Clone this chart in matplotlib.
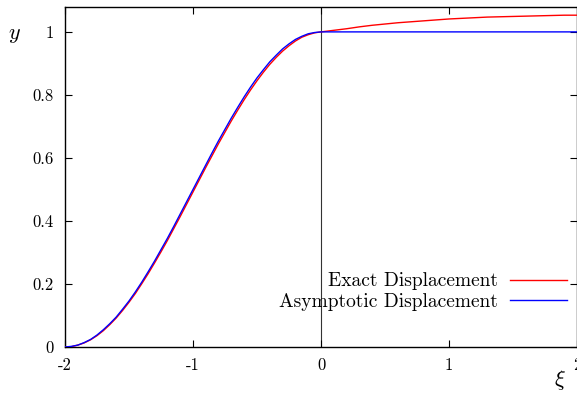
import matplotlib
matplotlib.use("Agg")
import matplotlib.pyplot as plt
import numpy as np

plt.rcParams["font.family"] = ["cmr10", "DejaVu Serif"]
plt.rcParams["mathtext.fontset"] = "cm"
plt.rcParams["axes.formatter.use_mathtext"] = True

# Displacement profiles, sampled every 0.05 on [-2, 0] and every 0.1 on [0, 2]
xi_left = np.linspace(-2.0, 0.0, 41)
exact_left = [0.0, 0.001, 0.006, 0.013, 0.023, 0.036, 0.052, 0.071, 0.092, 0.116,
              0.142, 0.170, 0.201, 0.233, 0.267, 0.302, 0.338, 0.376, 0.414, 0.453,
              0.492, 0.531, 0.570, 0.608, 0.646, 0.682, 0.718, 0.752, 0.785, 0.816,
              0.845, 0.872, 0.897, 0.919, 0.939, 0.956, 0.971, 0.983, 0.991, 0.997, 1.0]
asym_left = [0.0, 0.002, 0.006, 0.014, 0.024, 0.038, 0.055, 0.074, 0.095, 0.120,
             0.146, 0.175, 0.206, 0.239, 0.273, 0.309, 0.345, 0.383, 0.422, 0.461,
             0.500, 0.539, 0.578, 0.617, 0.655, 0.691, 0.727, 0.761, 0.794, 0.825,
             0.854, 0.880, 0.905, 0.926, 0.946, 0.962, 0.976, 0.986, 0.994, 0.998, 1.0]

xi_right = np.linspace(0.0, 2.0, 21)
exact_right = [1.0, 1.005, 1.010, 1.016, 1.021, 1.025, 1.029, 1.032, 1.035, 1.038,
               1.041, 1.043, 1.045, 1.047, 1.048, 1.049, 1.050, 1.051, 1.052, 1.053, 1.053]
asym_right = [1.0] * 21

xticks = [-2, -1, 0, 1, 2]
xticklabels = ["-2", "-1", "0", "1", "2"]
yticks = [0, 0.2, 0.4, 0.6, 0.8, 1.0]
yticklabels = ["0", "0.2", "0.4", "0.6", "0.8", "1"]

xi_all = np.concatenate([xi_left, xi_right[1:]])
y_exact = list(exact_left) + list(exact_right[1:])
y_asym = list(asym_left) + list(asym_right[1:])

fig = plt.figure(figsize=(5.77, 3.93), dpi=100)
ax = fig.add_axes([65 / 577, 1 - 347 / 393, 1 - 65 / 577, (347 - 7) / 393])

ax.axvline(0, color="#333333", lw=0.8, zorder=1)
ax.plot(xi_all, y_exact, color="#ff0000", lw=1.0, label="Exact Displacement", zorder=3)
ax.plot(xi_all, y_asym, color="#0000ff", lw=1.0, label="Asymptotic Displacement", zorder=3)

ax.set_xlim(-2, 2)
ax.set_ylim(0, 1.079)
ax.set_xticks(xticks)
ax.set_xticklabels(xticklabels)
ax.set_yticks(yticks)
ax.set_yticklabels(yticklabels)
ax.tick_params(direction="in", length=5, width=0.8, top=True, right=True,
               labelsize=12, pad=8)
for s in ax.spines.values():
    s.set_linewidth(1.0)

ax.text(-0.098, 0.918, r"$y$", transform=ax.transAxes, fontsize=16, ha="center", va="center")
fig.text(560 / 577, 1 - 380 / 393, r"$\xi$", fontsize=16, ha="center", va="center")

ax.legend(loc="lower right", bbox_to_anchor=(0.980, 0.106), markerfirst=False, frameon=False,
          fontsize=14, handlelength=2.93, handletextpad=0.62, labelspacing=0.13,
          borderpad=0.0, borderaxespad=0.0)

fig.savefig("out.png", dpi=100)
